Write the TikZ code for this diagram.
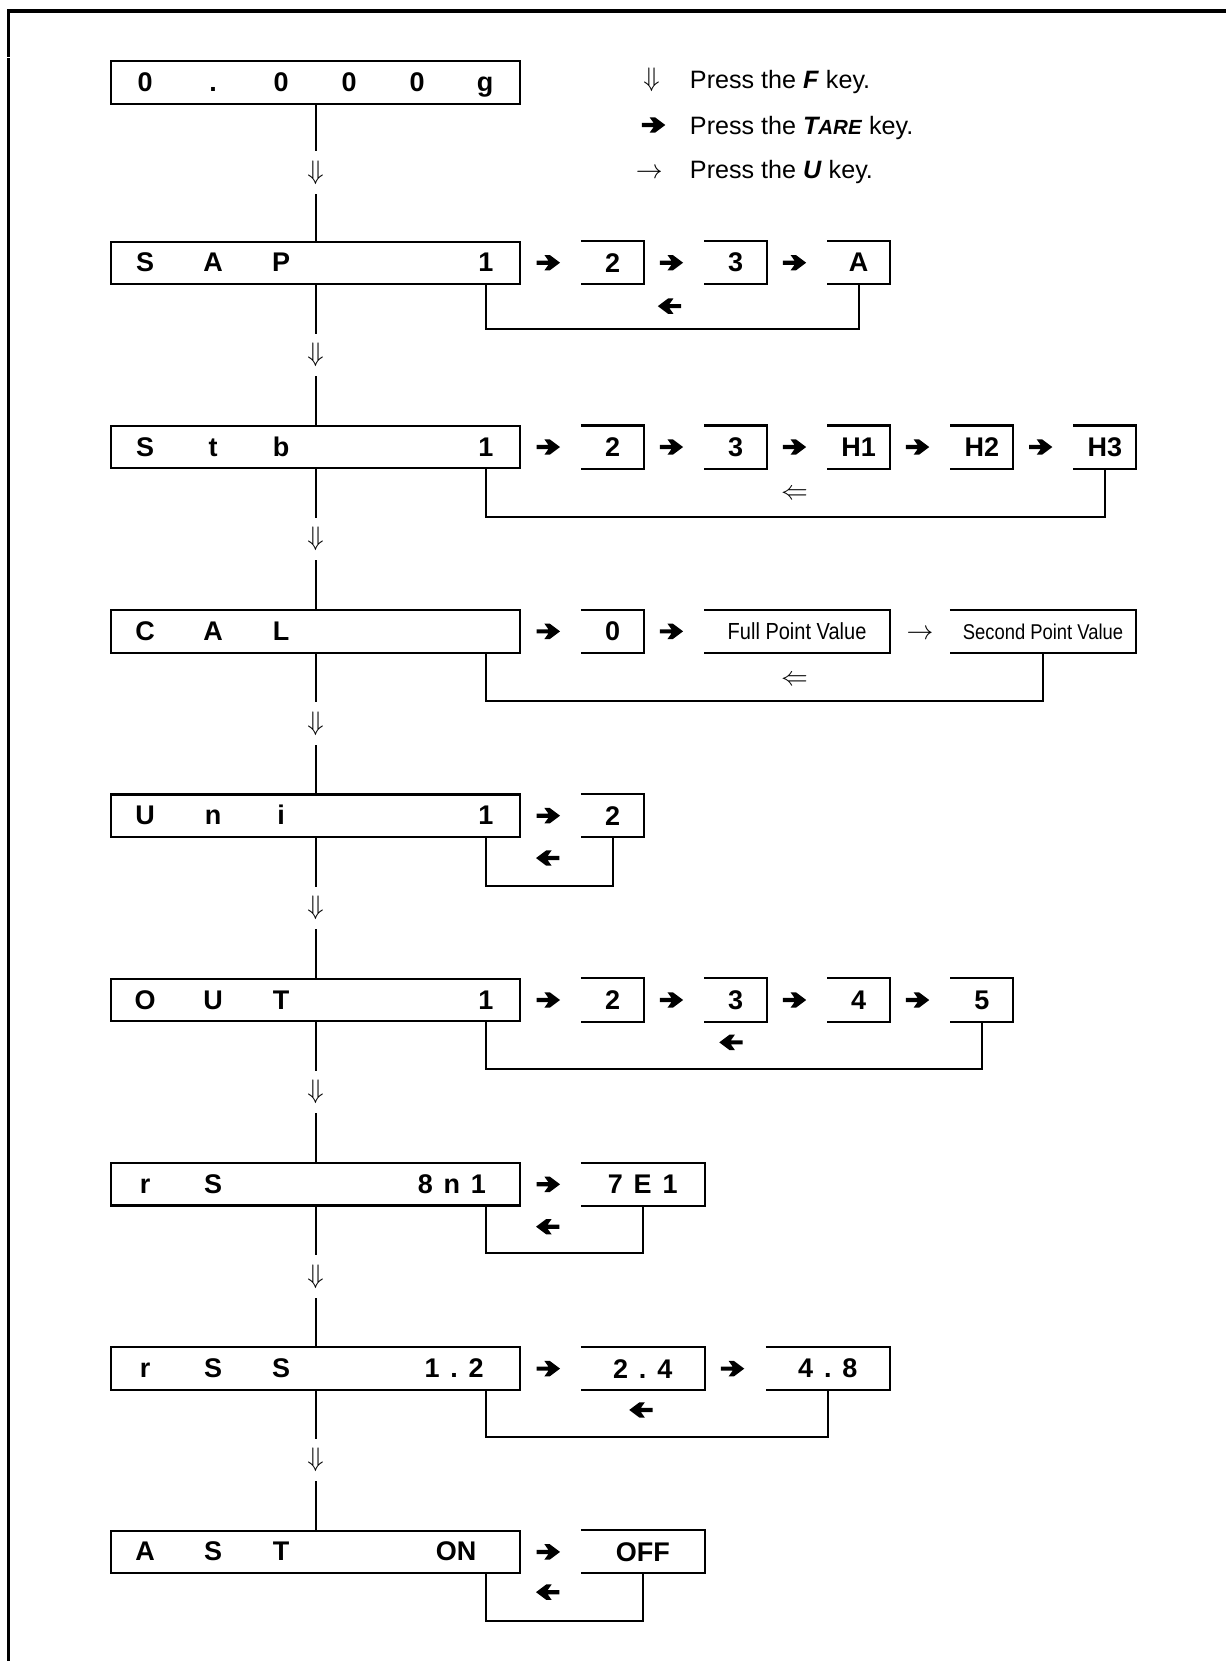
\documentclass[tikz,border=0pt]{standalone}
\usepackage{fontspec}
\setmainfont{Liberation Sans}
\newfontfamily\narrowfont[FakeStretch=0.86]{Liberation Sans}
\usetikzlibrary{positioning}

\newcommand{\dispfont}{\fontsize{14.5}{16}\selectfont\bfseries}
\newcommand{\gap}{\hspace{0.4em}}
\newcommand{\tarename}{\textbf{\textit{T{\fontsize{11}{12}\selectfont ARE}}}}

\tikzset{
  boxline/.style={line width=1.1pt},
  dispbox/.style={draw, boxline, minimum width=7.72cm, minimum height=0.8cm, inner sep=0pt},
  disptxt/.style={anchor=base, inner sep=0pt, font=\dispfont},
  dispval/.style={anchor=base east, inner sep=0pt, font=\dispfont},
  selbox/.style={minimum width=1.18cm, minimum height=0.8cm, inner sep=0pt, font=\dispfont},
  widebox/.style={selbox, minimum width=2.32cm},
  pointbox/.style={selbox, minimum width=3.5cm, font=\narrowfont\fontsize{12.5}{14}\selectfont},
  conn/.style={line width=1pt},
  fkey/.style={fill=white, inner sep=0pt, minimum height=0.8cm, font=\fontsize{15}{15}\selectfont},
  ukey/.style={inner sep=0pt, font=\fontsize{15}{15}\selectfont},
  legtxt/.style={anchor=base west, inner sep=0pt, font=\fontsize{13.5}{15}\selectfont},
  % heavy arrow of the TARE key
  tarearr/.pic={
    \fill[x=0.44cm, y=0.44cm] (-0.5,0.09) -- (0,0.09) -- (-0.17,0.33) -- (0.06,0.33)
      -- (0.5,0) -- (0.06,-0.33) -- (-0.17,-0.33) -- (0,-0.09) -- (-0.5,-0.09) -- cycle;
  },
}

\begin{document}
\begin{tikzpicture}[x=0.02cm, y=-0.02cm, node distance=1.13cm]
  \useasboundingbox (0,0) rectangle (1157,1568);

  % page frame (top and left edge only)
  \draw[line width=2.1pt] (8,1568) -- (8,10) -- (1157,10);
  \draw[white, line width=0.6pt] (4,54) -- (12,54);

  % legend
  \node[ukey] (leg-f) at (615,75) {$\Downarrow$};
  \node[legtxt] (leg-ft) at (651,83.5) {Press the \textbf{\textit{F}} key.};
  \coordinate (leg-t) at (617,118);
  \pic at (leg-t) {tarearr};
  \node[legtxt] (leg-tt) at (651,126.5) {Press the \tarename{} key.};
  \node[ukey] (leg-u) at (613,164) {$\rightarrow$};
  \node[legtxt] (leg-ut) at (651,168.5) {Press the \textbf{\textit{U}} key.};

  % weighing display
  \node[dispbox] (zero) at (298,78) {};
  \foreach \c [count=\i from 0] in {0,.,0,0,0,g}
    \node[disptxt] (zero-l\i) at (137+64.2*\i,86.5) {\c};

  % SAP row
  \node[dispbox] (sap) at (298,248) {};
  \foreach \c [count=\i from 0] in {S,A,P}
    \node[disptxt] (sap-l\i) at (137+64.2*\i,256.5) {\c};
  \node[dispval] (sap-v) at (466,256.5) {1};
  \node[selbox, right=of sap] (sap-2) {2};
  \node[selbox, right=of sap-2] (sap-3) {3};
  \node[selbox, right=of sap-3] (sap-a) {A};

  % Stb row
  \node[dispbox] (stb) at (298,422) {};
  \foreach \c [count=\i from 0] in {S,t,b}
    \node[disptxt] (stb-l\i) at (137+64.2*\i,430.5) {\c};
  \node[dispval] (stb-v) at (466,430.5) {1};
  \node[selbox, right=of stb] (stb-2) {2};
  \node[selbox, right=of stb-2] (stb-3) {3};
  \node[selbox, right=of stb-3] (stb-h1) {H1};
  \node[selbox, right=of stb-h1] (stb-h2) {H2};
  \node[selbox, right=of stb-h2] (stb-h3) {H3};

  % CAL row
  \node[dispbox] (cal) at (298,596) {};
  \foreach \c [count=\i from 0] in {C,A,L}
    \node[disptxt] (cal-l\i) at (137+64.2*\i,604.5) {\c};
  \node[selbox, right=of cal] (cal-0) {0};
  \node[pointbox, right=of cal-0] (cal-full) {Full Point Value};
  \node[pointbox, right=of cal-full, font=\narrowfont\fontsize{11.5}{14}\selectfont] (cal-sec) {Second Point Value};

  % Uni row
  \node[dispbox] (uni) at (298,770) {};
  \foreach \c [count=\i from 0] in {U,n,i}
    \node[disptxt] (uni-l\i) at (137+64.2*\i,778.5) {\c};
  \node[dispval] (uni-v) at (466,778.5) {1};
  \node[selbox, right=of uni] (uni-2) {2};

  % OUT row
  \node[dispbox] (out) at (298,944) {};
  \foreach \c [count=\i from 0] in {O,U,T}
    \node[disptxt] (out-l\i) at (137+64.2*\i,952.5) {\c};
  \node[dispval] (out-v) at (466,952.5) {1};
  \node[selbox, right=of out] (out-2) {2};
  \node[selbox, right=of out-2] (out-3) {3};
  \node[selbox, right=of out-3] (out-4) {4};
  \node[selbox, right=of out-4] (out-5) {5};

  % rS row
  \node[dispbox] (rs) at (298,1118) {};
  \foreach \c [count=\i from 0] in {r,S}
    \node[disptxt] (rs-l\i) at (137+64.2*\i,1126.5) {\c};
  \node[dispval] (rs-v) at (459,1126.5) {8\gap n\gap 1};
  \node[widebox, right=of rs] (rs-7e1) {7\gap E\gap 1};

  % rSS row
  \node[dispbox] (rss) at (298,1292) {};
  \foreach \c [count=\i from 0] in {r,S,S}
    \node[disptxt] (rss-l\i) at (137+64.2*\i,1300.5) {\c};
  \node[dispval] (rss-v) at (457,1300.5) {1\gap .\gap 2};
  \node[widebox, right=of rss] (rss-24) {2\gap .\gap 4};
  \node[widebox, right=1.16cm of rss-24] (rss-48) {4\gap .\gap 8};

  % AST row
  \node[dispbox] (ast) at (298,1465) {};
  \foreach \c [count=\i from 0] in {A,S,T}
    \node[disptxt] (ast-l\i) at (137+64.2*\i,1473.5) {\c};
  \node[dispval] (ast-v) at (450,1473.5) {ON};
  \node[widebox, right=of ast] (ast-off) {OFF};

  % open boxes: top, right and bottom sides
  \foreach \b in {sap-2,sap-3,sap-a,stb-2,stb-3,stb-h1,stb-h2,stb-h3,
                  cal-0,cal-full,cal-sec,uni-2,out-2,out-3,out-4,out-5,
                  rs-7e1,rss-24,rss-48,ast-off}
    \draw[boxline] (\b.north west) -- (\b.north east) -- (\b.south east) -- (\b.south west);

  % F key: down the menu
  \draw[conn] (zero) -- node[fkey] (f1) {$\Downarrow$} (sap);
  \draw[conn] (sap) -- node[fkey] (f2) {$\Downarrow$} (stb);
  \draw[conn] (stb) -- node[fkey] (f3) {$\Downarrow$} (cal);
  \draw[conn] (cal) -- node[fkey] (f4) {$\Downarrow$} (uni);
  \draw[conn] (uni) -- node[fkey] (f5) {$\Downarrow$} (out);
  \draw[conn] (out) -- node[fkey] (f6) {$\Downarrow$} (rs);
  \draw[conn] (rs) -- node[fkey] (f7) {$\Downarrow$} (rss);
  \draw[conn] (rss) -- node[fkey] (f8) {$\Downarrow$} (ast);

  % TARE key: along each row
  \path (sap) -- coordinate (t1) (sap-2)
        (sap-2) -- coordinate (t2) (sap-3)
        (sap-3) -- coordinate (t3) (sap-a)
        (stb) -- coordinate (t4) (stb-2)
        (stb-2) -- coordinate (t5) (stb-3)
        (stb-3) -- coordinate (t6) (stb-h1)
        (stb-h1) -- coordinate (t7) (stb-h2)
        (stb-h2) -- coordinate (t8) (stb-h3)
        (cal) -- coordinate (t9) (cal-0)
        (cal-0) -- coordinate (t10) (cal-full)
        (uni) -- coordinate (t11) (uni-2)
        (out) -- coordinate (t12) (out-2)
        (out-2) -- coordinate (t13) (out-3)
        (out-3) -- coordinate (t14) (out-4)
        (out-4) -- coordinate (t15) (out-5)
        (rs) -- coordinate (t16) (rs-7e1)
        (rss) -- coordinate (t17) (rss-24)
        (rss-24) -- coordinate (t18) (rss-48)
        (ast) -- coordinate (t19) (ast-off);
  \foreach \t in {1,...,19}
    \pic at ([xshift=-0.05cm]t\t) {tarearr};
  % U key
  \path (cal-full) -- node[ukey, yshift=-0.06cm] (u1) {$\rightarrow$} (cal-sec);

  % return loops
  \draw[boxline] ([xshift=-0.66cm]sap.south east) -- ++(0,42) -| (sap-a.south);
  \coordinate (b1) at (632,289);
  \draw[boxline] ([xshift=-0.66cm]stb.south east) -- ++(0,45) -| (stb-h3.south);
  \node[ukey] (b2) at (750,467) {$\Leftarrow$};
  \draw[boxline] ([xshift=-0.66cm]cal.south east) -- ++(0,45) -| (cal-sec.south);
  \node[ukey] (b3) at (750,642) {$\Leftarrow$};
  \draw[boxline] ([xshift=-0.66cm]uni.south east) -- ++(0,45) -| (uni-2.south);
  \coordinate (b4) at (517,810);
  \draw[boxline] ([xshift=-0.66cm]out.south east) -- ++(0,44) -| (out-5.south);
  \coordinate (b5) at (690,984);
  \draw[boxline] ([xshift=-0.66cm]rs.south east) -- ++(0,44) -| (rs-7e1.south);
  \coordinate (b6) at (517,1158);
  \draw[boxline] ([xshift=-0.66cm]rss.south east) -- ++(0,44) -| (rss-48.south);
  \coordinate (b7) at (605,1331);
  \draw[boxline] ([xshift=-0.66cm]ast.south east) -- ++(0,44) -| (ast-off.south);
  \coordinate (b8) at (517,1503);
  \foreach \b in {b1,b4,b5,b6,b7,b8}
    \pic[rotate=180] at (\b) {tarearr};
\end{tikzpicture}
\end{document}
